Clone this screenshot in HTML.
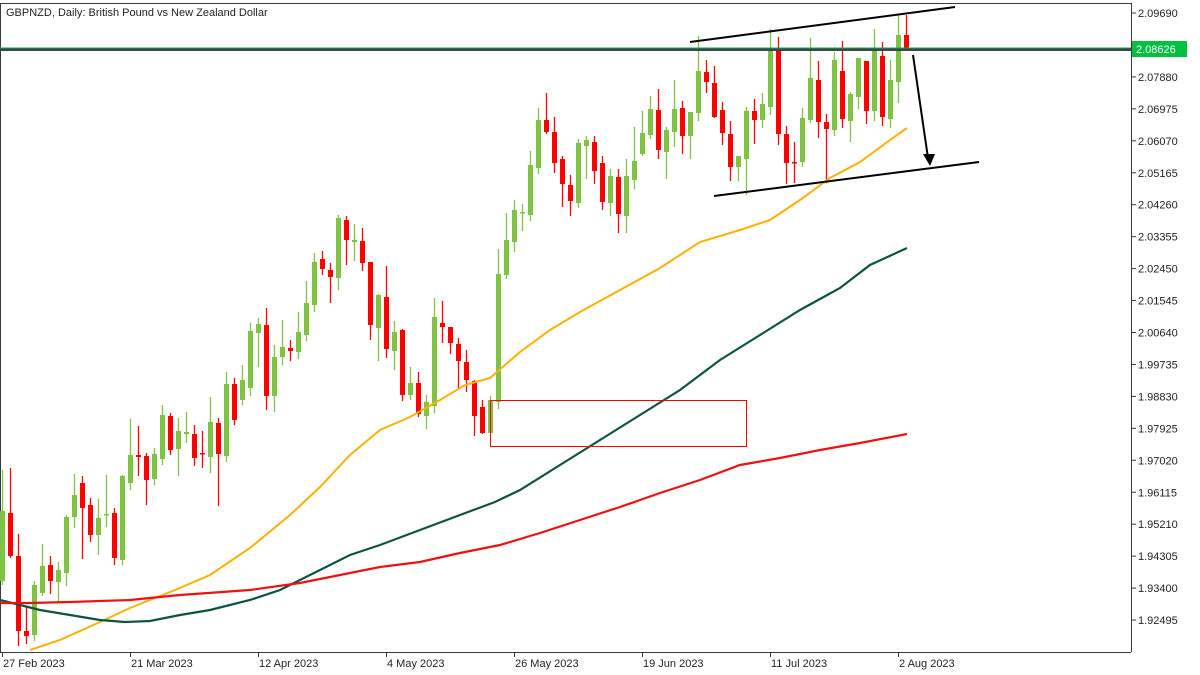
<!DOCTYPE html><html><head><meta charset="utf-8"><style>
body{margin:0;background:#fff}svg{display:block;font-family:"Liberation Sans",sans-serif;font-size:11px}
</style></head><body>
<svg id="s" width="1200" height="675" xmlns="http://www.w3.org/2000/svg">
<rect x="0" y="0" width="1200" height="675" fill="#fff"/>
<line x1="0" y1="3.5" x2="1131" y2="3.5" stroke="#333c44"/>
<line x1="1131.5" y1="3" x2="1131.5" y2="652" stroke="#333c44"/>
<line x1="0" y1="652.5" x2="1131" y2="652.5" stroke="#333c44"/>
<line x1="0.5" y1="3" x2="0.5" y2="652" stroke="#333c44"/>
<text x="6" y="16" fill="#222">GBPNZD, Daily:  British Pound vs New Zealand Dollar</text>
<g id="ax"></g>
<g id="c"></g>
<polyline fill="none" stroke="#ffb000" stroke-width="2" points="30,650 60,640 100,622 130,608 175,590 210,575 250,548 290,515 320,487 350,455 380,430 410,417 440,400 465,385 490,378 520,352 550,330 580,312 620,290 660,268 700,242 740,230 770,220 800,200 830,178 860,162 890,140 907,128"/>
<polyline fill="none" stroke="#0d5343" stroke-width="2.2" points="0,600 20,605 40,610 70,615 100,620 125,622 150,621 180,615 210,610 250,600 280,590 310,575 350,555 380,545 420,530 460,515 495,502 520,490 560,465 600,440 640,415 680,390 720,360 760,335 800,310 840,288 870,265 907,248"/>
<polyline fill="none" stroke="#ee1111" stroke-width="2.2" points="0,603 30,603 70,602 130,600 180,595 250,590 300,583 350,573 380,567 420,562 460,553 500,545 540,533 580,520 620,507 660,493 700,480 740,465 780,458 820,450 860,443 907,434"/>
<rect x="490.5" y="400.5" width="256" height="46" fill="none" stroke="#f00" stroke-width="1"/>
<line x1="0" y1="49.5" x2="1131" y2="49.5" stroke="#36484a" stroke-width="3"/>
<line x1="0" y1="48" x2="1131" y2="48" stroke="#19a44a" stroke-width="1"/>
<line x1="690" y1="42" x2="955" y2="7" stroke="#000" stroke-width="2"/>
<line x1="714" y1="196" x2="979" y2="162" stroke="#000" stroke-width="2"/>
<line x1="913" y1="55" x2="928" y2="158" stroke="#000" stroke-width="2"/>
<polygon points="923,154 935,154 930,166" fill="#000"/>
<rect x="1132" y="41" width="55" height="16" fill="#00c040"/>
<text x="1136" y="53" fill="#fff">2.08626</text>
</svg>
<script>
var C=[
[1,470,511,581,585],[0,468,513,556,558],[0,534,556,631,646],[0,607,631,636,644],[1,581,585,635,641],[1,544,566,593,596],[0,556,565,581,594],[1,562,570,582,602],[1,515,517,573,586],[1,474,495,517,528],
[0,476,483,508,559],[0,498,505,535,542],[1,499,518,535,555],[1,475,514,515,527],[0,508,513,558,565],[1,475,476,560,565],[1,419,455,483,490],[0,426,455,457,476],[0,453,456,480,505],[1,448,454,479,485],
[1,405,415,459,465],[0,413,416,450,455],[1,418,431,449,476],[1,412,432,434,443],[0,425,434,458,466],[0,431,453,454,468],[1,397,422,457,473],[0,418,423,454,506],[1,372,384,456,462],[0,378,384,420,425],
[1,365,380,400,405],[1,323,331,388,396],[1,318,324,333,367],[0,308,325,396,410],[1,345,357,396,412],[1,320,347,357,365],[0,340,348,351,361],[1,312,332,352,359],[1,281,303,335,341],[1,253,262,305,312],
[0,251,259,269,275],[0,263,270,277,303],[1,215,218,278,290],[0,216,220,240,265],[1,224,240,242,261],[0,228,241,263,271],[0,262,262,325,340],[1,294,295,328,361],[0,266,297,349,358],[1,321,332,351,370],
[0,329,330,395,401],[1,367,383,395,400],[0,372,383,414,417],[1,395,402,416,429],[1,298,317,406,413],[0,301,323,327,343],[0,327,327,343,354],[0,338,344,361,388],[0,350,362,380,392],[0,380,381,416,436],
[0,400,407,433,434],[1,396,400,433,433],[1,249,274,402,409],[1,213,240,275,279],[1,200,210,242,252],[1,204,212,213,231],[1,151,165,215,221],[1,108,120,168,174],[0,93,120,132,134],[0,117,132,163,173],
[0,156,159,184,207],[0,175,185,201,216],[1,139,143,203,208],[1,136,140,146,179],[0,136,142,171,184],[0,156,163,202,210],[1,169,176,203,216],[0,169,177,214,233],[1,159,176,216,233],[1,127,161,180,189],
[1,111,133,154,156],[1,96,109,135,139],[0,89,110,150,159],[1,127,130,152,179],[1,80,109,132,147],[0,101,108,136,154],[1,112,112,136,159],[1,36,71,113,121],[0,60,72,82,93],[0,66,83,117,118],
[0,102,110,133,145],[0,121,134,167,181],[1,156,156,167,181],[1,107,111,159,195],[0,99,111,120,144],[1,93,104,120,128],[1,29,49,107,115],[0,37,51,134,145],[0,126,134,163,184],[0,142,162,163,183],
[1,108,118,162,167],[1,38,78,120,123],[0,61,80,122,138],[0,114,122,129,183],[1,52,60,130,136],[0,41,71,119,128],[1,92,94,121,142],[1,58,58,97,109],[0,61,61,111,124],[1,29,49,111,121],
[0,42,56,117,126],[1,60,80,119,128],[1,15,35,82,103],[0,15,35,50,50]];
var ns="http://www.w3.org/2000/svg",g=document.getElementById("c"),h="";
C.forEach(function(k,i){var x=2+8*i,col=k[0]?"#80c342":"#ff0000";
h+='<line x1="'+(x+0.5)+'" y1="'+k[1]+'" x2="'+(x+0.5)+'" y2="'+k[4]+'" stroke="'+col+'" stroke-width="1.3"/>';
h+='<rect x="'+(x-2)+'" y="'+k[2]+'" width="5" height="'+Math.max(1.5,k[3]-k[2])+'" fill="'+col+'"/>';});
g.innerHTML=h;
var a="",labs=["2.09690","2.08785","2.07880","2.06975","2.06070","2.05165","2.04260","2.03355","2.02450","2.01545","2.00640","1.99735","1.98830","1.97925","1.97020","1.96115","1.95210","1.94305","1.93400","1.92495"];
labs.forEach(function(t,i){var y=13+i*31.95;a+='<line x1="1131" y1="'+y+'" x2="1136" y2="'+y+'" stroke="#333c44"/><text x="1138" y="'+(y+4)+'" fill="#222">'+t+'</text>';});
var d=["27 Feb 2023","21 Mar 2023","12 Apr 2023","4 May 2023","26 May 2023","19 Jun 2023","11 Jul 2023","2 Aug 2023"];
d.forEach(function(t,i){var x=2+128*i;a+='<line x1="'+(x+.5)+'" y1="652" x2="'+(x+.5)+'" y2="657" stroke="#333c44"/><text x="'+(x+1)+'" y="667" fill="#222">'+t+'</text>';});
document.getElementById("ax").innerHTML=a;
</script>
</body></html>
